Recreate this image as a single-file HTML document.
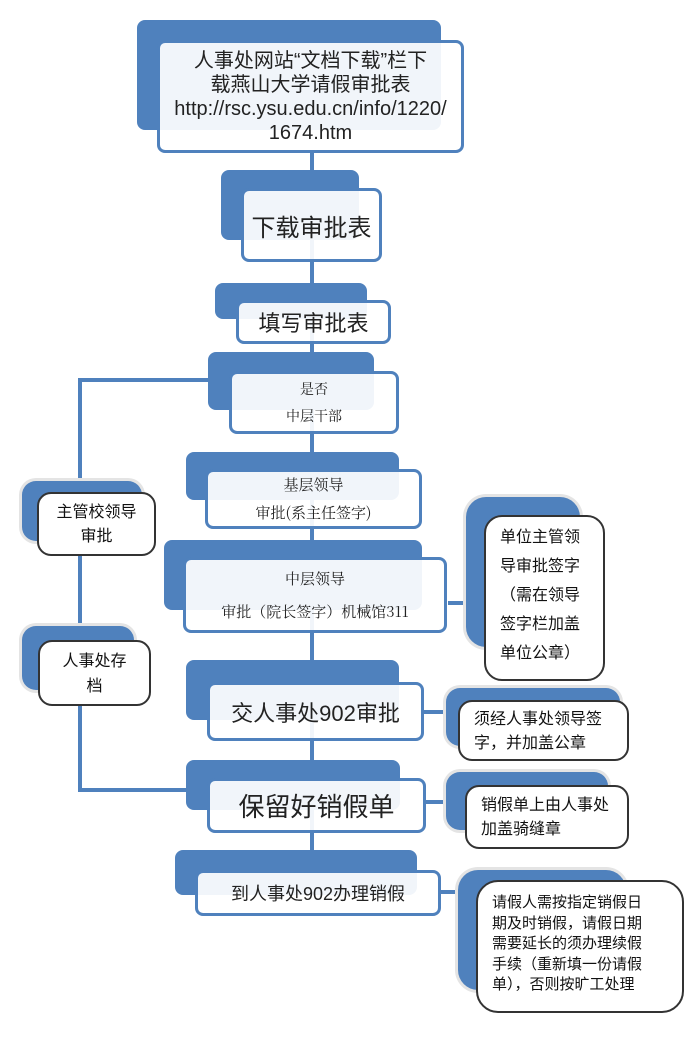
<!DOCTYPE html>
<html><head><meta charset="utf-8"><style>
body{margin:0;width:700px;height:1038px;background:#fff;position:relative;overflow:hidden;font-family:"Liberation Sans","Noto Sans CJK SC",sans-serif;}
.b{position:absolute;background:#4f81bd;border-radius:8px;}
.f{position:absolute;background:rgba(255,255,255,0.92);border:3px solid #4f81bd;border-radius:8px;box-sizing:border-box;display:flex;align-items:center;justify-content:center;text-align:center;color:#222;}
.k{position:absolute;background:#fff;border:2px solid #333;border-radius:14px;box-sizing:border-box;color:#111;}
.bs{position:absolute;background:#4f81bd;border-radius:14px;box-shadow:0 0 0 3px #e4e4e4;}
.l{position:absolute;background:#4f81bd;}
.s{font-family:"Noto Serif CJK SC","Liberation Serif",serif;}
</style></head><body>
<div class="l" style="left:310px;top:150px;width:4px;height:720px"></div>
<div class="l" style="left:78px;top:378px;width:4px;height:414px"></div>
<div class="l" style="left:78px;top:378px;width:132px;height:4px"></div>
<div class="l" style="left:78px;top:788px;width:110px;height:4px"></div>
<div class="l" style="left:448px;top:601px;width:16px;height:4px"></div>
<div class="l" style="left:422px;top:710px;width:26px;height:4px"></div>
<div class="l" style="left:424px;top:800px;width:22px;height:4px"></div>
<div class="l" style="left:438px;top:890px;width:22px;height:4px"></div>

<div class="b" style="left:137px;top:20px;width:304px;height:110px"></div>
<div class="f" style="left:157px;top:40px;width:307px;height:113px;font-size:20px;line-height:24px">人事处网站“文档下载”栏下<br>载燕山大学请假审批表<br>http://rsc.ysu.edu.cn/info/1220/<br>1674.htm</div>
<div class="b" style="left:221px;top:170px;width:138px;height:70px"></div>
<div class="f" style="left:241px;top:188px;width:141px;height:74px;font-size:24px">下载审批表</div>
<div class="b" style="left:215px;top:283px;width:152px;height:36px"></div>
<div class="f" style="left:236px;top:300px;width:155px;height:44px;font-size:22px">填写审批表</div>
<div class="b" style="left:208px;top:352px;width:166px;height:58px"></div>
<div class="f s" style="left:229px;top:371px;width:170px;height:63px;font-size:14px;line-height:27px">是否<br>中层干部</div>
<div class="b" style="left:186px;top:452px;width:213px;height:48px"></div>
<div class="f s" style="left:205px;top:469px;width:217px;height:60px;font-size:15px;line-height:28px">基层领导<br>审批(系主任签字)</div>
<div class="b" style="left:164px;top:540px;width:258px;height:70px"></div>
<div class="f s" style="left:183px;top:557px;width:264px;height:76px;font-size:15px;line-height:33px">中层领导<br>审批（院长签字）机械馆311</div>
<div class="b" style="left:186px;top:660px;width:213px;height:60px"></div>
<div class="f" style="left:207px;top:682px;width:217px;height:59px;font-size:22px">交人事处902审批</div>
<div class="b" style="left:186px;top:760px;width:214px;height:50px"></div>
<div class="f" style="left:207px;top:778px;width:219px;height:55px;font-size:26px">保留好销假单</div>
<div class="b" style="left:175px;top:850px;width:242px;height:45px"></div>
<div class="f" style="left:195px;top:870px;width:246px;height:46px;font-size:18px">到人事处902办理销假</div>

<div class="bs" style="left:22px;top:481px;width:120px;height:60px"></div>
<div class="k" style="left:37px;top:492px;width:119px;height:64px;font-size:16px;line-height:24px;text-align:center;padding-top:7px">主管校领导<br>审批</div>
<div class="bs" style="left:22px;top:626px;width:112px;height:64px"></div>
<div class="k" style="left:38px;top:640px;width:113px;height:66px;font-size:16px;line-height:25px;text-align:center;padding-top:7px">人事处存<br>档</div>

<div class="bs" style="left:466px;top:497px;width:114px;height:150px;border-radius:20px"></div>
<div class="k" style="left:484px;top:515px;width:121px;height:166px;font-size:16px;line-height:29px;padding:6px 0 0 14px;border-radius:18px">单位主管领<br>导审批签字<br>（需在领导<br>签字栏加盖<br>单位公章）</div>
<div class="bs" style="left:446px;top:688px;width:174px;height:58px"></div>
<div class="k" style="left:458px;top:700px;width:171px;height:61px;font-size:16px;line-height:24px;padding:6px 0 0 14px">须经人事处领导签<br>字，并加盖公章</div>
<div class="bs" style="left:446px;top:772px;width:162px;height:58px"></div>
<div class="k" style="left:465px;top:785px;width:164px;height:64px;font-size:16px;line-height:24px;padding:7px 0 0 14px">销假单上由人事处<br>加盖骑缝章</div>
<div class="bs" style="left:458px;top:870px;width:168px;height:120px;border-radius:20px"></div>
<div class="k" style="left:476px;top:880px;width:208px;height:133px;font-size:15px;line-height:20.5px;padding:11px 0 0 14px;border-radius:22px">请假人需按指定销假日<br>期及时销假，请假日期<br>需要延长的须办理续假<br>手续（重新填一份请假<br>单），否则按旷工处理</div>
</body></html>
